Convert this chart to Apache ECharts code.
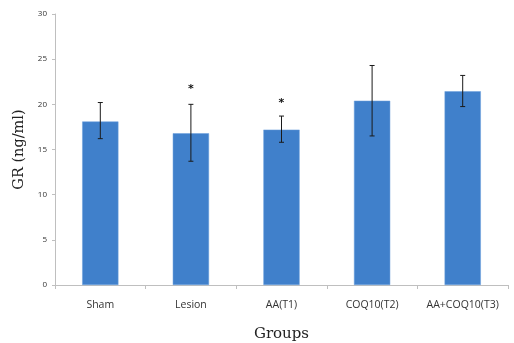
<!DOCTYPE html>
<html><head><meta charset="utf-8">
<script src="https://cdn.jsdelivr.net/npm/echarts@6/dist/echarts.min.js"></script>
<style>html,body{margin:0;padding:0;background:#fff}#c{width:514px;height:343px}</style>
</head><body><div id="c"></div>
<script>
var categories = ['Sham', 'Lesion', 'AA(T1)', 'COQ10(T2)', 'AA+COQ10(T3)'];
var means = [18.1, 16.8, 17.2, 20.4, 21.45];
var errTop = [20.2, 20.0, 18.7, 24.3, 23.2];
var errBottom = [16.2, 13.7, 15.8, 16.5, 19.75];
var stars = [null, 21.9, 20.4, null, null];
var yTicks = [0, 5, 10, 15, 20, 25, 30];

var chart = echarts.init(document.getElementById('c'));
var errData = categories.map(function (c, i) { return [i, errBottom[i], errTop[i]]; });
var starData = categories.map(function (c, i) { return [i, stars[i]]; }).filter(function (d) { return d[1] != null; });

chart.setOption({
  animation: false,
  grid: { left: 55, right: 6, top: 14, bottom: 58, containLabel: false, outerBoundsMode: 'none' },
  xAxis: {
    type: 'category', data: categories,
    name: 'Groups', nameLocation: 'middle', nameGap: 42,
    nameTextStyle: { fontFamily: 'DejaVu Serif', fontSize: 15, color: '#222' },
    axisLine: { lineStyle: { color: '#bfbfbf' } },
    axisTick: { show: true, alignWithLabel: false, length: 4, lineStyle: { color: '#bfbfbf' } },
    axisLabel: { color: '#333', fontSize: 10.5, fontFamily: 'Open Sans', margin: 15, interval: 0 }
  },
  yAxis: {
    type: 'value', min: yTicks[0], max: yTicks[yTicks.length - 1], interval: 5,
    name: 'GR (ng/ml)', nameLocation: 'middle', nameGap: 27,
    nameTextStyle: { fontFamily: 'DejaVu Serif', fontSize: 14.5, color: '#222' },
    axisLine: { show: true, lineStyle: { color: '#bfbfbf' } },
    axisTick: { show: true, length: 3, lineStyle: { color: '#bfbfbf' } },
    splitLine: { show: false },
    axisLabel: { color: '#333', fontSize: 8, fontFamily: 'Open Sans', margin: 8 }
  },
  series: [
    {
      type: 'bar', data: means, barCategoryGap: '60%',
      itemStyle: { color: '#4080CB', borderColor: '#6b9fdc', borderWidth: 0.5 }
    },
    {
      type: 'custom', data: errData, z: 5,
      renderItem: function (params, api) {
        var x = api.value(0);
        var lo = api.coord([x, api.value(1)]);
        var hi = api.coord([x, api.value(2)]);
        var w = 2.5;
        var st = { stroke: '#1a1a1a', lineWidth: 1 };
        return { type: 'group', children: [
          { type: 'line', shape: { x1: lo[0], y1: lo[1], x2: hi[0], y2: hi[1] }, style: st },
          { type: 'line', shape: { x1: lo[0] - w, y1: lo[1], x2: lo[0] + w, y2: lo[1] }, style: st },
          { type: 'line', shape: { x1: hi[0] - w, y1: hi[1], x2: hi[0] + w, y2: hi[1] }, style: st }
        ] };
      }
    },
    {
      type: 'custom', data: starData, z: 6,
      renderItem: function (params, api) {
        var p = api.coord([api.value(0), api.value(1)]);
        return { type: 'text', x: p[0], y: p[1] + 2,
          style: { text: '*', fill: '#111', font: 'bold 11px DejaVu Sans', align: 'center', verticalAlign: 'middle' } };
      }
    }
  ]
});
</script></body></html>
